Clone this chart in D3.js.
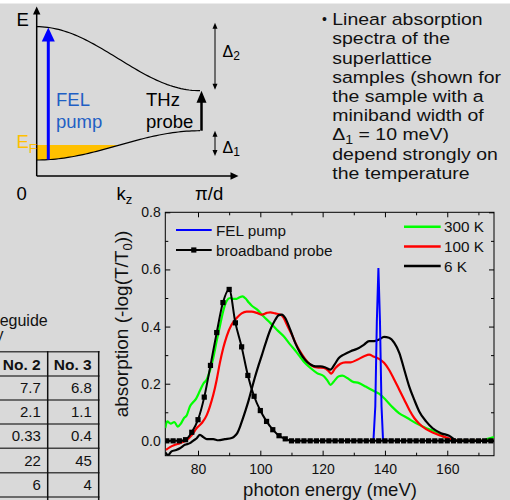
<!DOCTYPE html>
<html>
<head>
<meta charset="utf-8">
<script src="https://cdn.jsdelivr.net/npm/d3@7"></script>
<style>
  body { margin: 0; background: #d9d9d9; }
  svg { display: block; font-family: "Liberation Sans", Arial, sans-serif; }
</style>
</head>
<body>
<svg id="fig" width="510" height="500"></svg>
<script>
// ---- data ----
const probeEnergy = [70,72,74,76,78,80,82,84,86,88,90,92,94,96,98,100,102,104,106,108,110,
  112,114,116,118,120,122,124,126,128,130,132,134,136,138,140,142,144,146,148,150,152,154,156,158,160,162,164,166,168,170,172,174];
const probeAbs = [0,0,0,0.004,0.03,0.074,0.153,0.264,0.379,0.484,0.53,0.413,0.329,0.229,0.156,0.106,0.068,0.039,0.018,0.007,0,
  0,0,0,0,0,0,0,0,0,0,0,0,0,0,0,0,0,0,0,0,0,0,0,0,0,0,0,0,0,0,0,0];

const pumpEnergy = [136.3,136.9,137.4,137.9,138.4,138.9,139.4];
const pumpAbs = [0,0.12,0.42,0.605,0.42,0.12,0];

const energy300 = [69.5,70.1,71.2,72.4,73.5,74.5,75.4,76.4,77.4,78.4,79.4,80.6,81.7,82.8,83.8,84.9,86.0,87.0,88.1,89.2,90.3,91.4,92.4,93.4,94.3,95.3,96.3,97.2,98.9,101.0,103.2,105.3,107.5,109.6,111.8,113.9,116.1,118.2,120.4,121.6,122.5,123.6,125.2,126.3,127.9,129.5,131.7,133.8,136.0,138.1,140.2,142.4,144.5,147.2,149.9,152.6,155.3,157.4,159.0,161.2,163.3,171,173,175];
const abs300 = [0.045,0.068,0.06,0.066,0.05,0.06,0.078,0.09,0.12,0.135,0.148,0.175,0.2,0.215,0.245,0.29,0.35,0.4,0.455,0.49,0.5,0.497,0.497,0.503,0.506,0.498,0.484,0.474,0.46,0.436,0.413,0.389,0.366,0.337,0.308,0.278,0.255,0.237,0.226,0.21,0.196,0.208,0.226,0.228,0.22,0.208,0.202,0.19,0.177,0.165,0.144,0.118,0.097,0.08,0.062,0.048,0.036,0.027,0.013,0.004,0,0,0.007,0.013];

const energy100 = [69.7,71.0,72.6,74.2,76.4,78.0,79.6,81.2,82.8,83.8,84.9,86.0,87.0,88.1,89.2,90.8,92.4,94.0,95.6,97.2,98.9,100.5,102.1,103.2,104.8,106.4,107.5,108.5,110.1,111.8,113.4,115.0,116.6,118.2,120.4,122.0,122.7,124.1,125.7,127.3,129.0,131.1,133.3,134.9,136.5,138.1,139.7,141.3,143.0,144.6,146.2,147.8,149.4,151.0,153.2,155.3,158.0,160.6,163.3,175];
const abs100 = [-0.032,-0.022,-0.014,-0.008,0.003,0.02,0.045,0.062,0.09,0.12,0.161,0.214,0.272,0.325,0.366,0.407,0.43,0.446,0.452,0.452,0.448,0.442,0.448,0.45,0.446,0.442,0.43,0.407,0.372,0.331,0.302,0.278,0.263,0.257,0.255,0.243,0.235,0.255,0.27,0.275,0.275,0.284,0.296,0.302,0.294,0.287,0.273,0.249,0.214,0.179,0.144,0.109,0.08,0.06,0.041,0.029,0.018,0.008,0,0];

const energy6 = [69.5,70.4,71.5,73.0,74.2,75.8,77.4,78.5,79.6,80.6,81.7,82.8,84.9,86.5,88.6,90.8,91.6,92.6,93.5,94.3,95.2,96.2,97.2,98.2,99.3,100.5,101.5,103.2,104.8,105.9,106.9,108.0,109.6,111.2,112.8,114.4,116.1,117.7,119.3,120.9,122.5,123.8,125.2,126.8,129.0,131.1,133.3,134.9,136.5,138.1,139.7,141.3,143.0,144.6,146.2,147.8,149.4,151.0,153.2,155.3,158.0,160.6,163.3,175];
const abs6 = [-0.04,-0.05,-0.037,-0.032,-0.026,-0.014,-0.008,0.001,0.009,0.021,0.013,0.006,0.006,0.002,0.006,0.01,0.015,0.027,0.05,0.075,0.105,0.14,0.18,0.22,0.26,0.3,0.335,0.389,0.424,0.44,0.442,0.43,0.389,0.343,0.308,0.283,0.267,0.261,0.261,0.257,0.249,0.267,0.29,0.302,0.314,0.322,0.337,0.349,0.349,0.355,0.364,0.361,0.343,0.308,0.249,0.19,0.144,0.103,0.068,0.044,0.027,0.018,0,0];

const xTicks = [80, 100, 120, 140, 160];
const xMinor = [90, 110, 130, 150, 170];
const yTicks = [0, 0.2, 0.4, 0.6, 0.8];
const yMinor = [0.1, 0.3, 0.5, 0.7];

const tempLegend = ["300 K", "100 K", "6 K"];
const tempColors = ["#00ff00", "#ff0000", "#000000"];

const tableHead = ["No. 2", "No. 3"];
const tableRows = [["7.7", "6.8"], ["2.1", "1.1"], ["0.33", "0.4"], ["22", "45"], ["6", "4"]];

const bulletLines = [["Linear absorption"], ["spectra of the"], ["superlattice"], ["samples (shown for"],
  ["the sample with a"], ["miniband width of"], ["\u0394", "1", " = 10 meV)"], ["depend strongly on"], ["the temperature"]];

// miniband schematic (arbitrary energy units)
const band1 = {center: 18.1, width: 17.3};
const band2 = {center: 69.3, width: 37.8};
const fermiLevel = 18.3;

const svg = d3.select("#fig");
svg.append("rect").attr("width", 510).attr("height", 500).attr("fill", "#d9d9d9");
svg.append("rect").attr("width", 510).attr("height", 3.5).attr("fill", "#fff");

// text with subscripts: parts alternate normal / subscript
function richText(sel, parts, subSize, subDy) {
  parts.forEach((p, i) => {
    const t = sel.append("tspan").text(p);
    if (i % 2 === 1) t.attr("dy", subDy).attr("font-size", subSize);
    else if (i > 0) t.attr("dy", -subDy);
  });
  return sel;
}

function vArrow(g, x, y0, y1, o) {
  const dir = Math.sign(y1 - y0);
  g.append("line").attr("x1", x).attr("x2", x)
    .attr("y1", o.both ? y0 + dir * o.len * 0.8 : y0).attr("y2", y1 - dir * o.len * 0.8)
    .attr("stroke", o.color).attr("stroke-width", o.sw);
  const head = (yt, d) => g.append("path")
    .attr("d", `M${x},${yt} L${x - o.w / 2},${yt - d * o.len} L${x + o.w / 2},${yt - d * o.len} Z`)
    .attr("fill", o.color);
  head(y1, dir);
  if (o.both) head(y0, -dir);
}

// ---------------- band diagram ----------------
const dia = svg.append("g");
const kScale = d3.scaleLinear().domain([0, Math.PI]).range([36.7, 200]);
const eScale = d3.scaleLinear().domain([0, 100]).range([176, 6.7]);
const kGrid = d3.range(0, Math.PI + 0.001, Math.PI / 60);
const e1 = k => band1.center - band1.width / 2 * Math.cos(k);
const e2 = k => band2.center + band2.width / 2 * Math.cos(k);

// filled states below E_F
const kF = Math.acos((band1.center - fermiLevel) / (band1.width / 2));
dia.append("path")
  .datum(kGrid.filter(k => k <= kF).concat([kF]))
  .attr("d", d3.area().x(k => kScale(k)).y0(k => eScale(e1(k))).y1(eScale(fermiLevel)))
  .attr("fill", "#ffc000");

[e1, e2].forEach(f => {
  dia.append("path").datum(kGrid)
    .attr("d", d3.line().x(k => kScale(k)).y(k => eScale(f(k))))
    .attr("fill", "none").attr("stroke", "#000").attr("stroke-width", 1.2);
});

// axes of the diagram
dia.append("line").attr("x1", 36.7).attr("x2", 36.7).attr("y1", 176).attr("y2", 12)
  .attr("stroke", "#000").attr("stroke-width", 1.5);
dia.append("path").attr("d", "M36.7,6.5 L33,14.5 L40.4,14.5 Z").attr("fill", "#000");
dia.append("line").attr("x1", 36.7).attr("x2", 232).attr("y1", 176).attr("y2", 176)
  .attr("stroke", "#000").attr("stroke-width", 1.5);
dia.append("path").attr("d", "M238.5,176 L230.5,172.3 L230.5,179.7 Z").attr("fill", "#000");

// transitions
const kPump = kScale.invert(48.3);
vArrow(dia, 48.3, eScale(e1(kPump)), eScale(e2(kPump)), {color: "#0000ff", sw: 3, w: 13, len: 14});
vArrow(dia, 201.5, eScale(e1(Math.PI)), eScale(e2(Math.PI)), {color: "#000", sw: 2.5, w: 10, len: 12});
vArrow(dia, 215, eScale(e2(0)) - 4, eScale(e2(Math.PI)) - 1, {color: "#000", sw: 1, w: 5, len: 6, both: true});
vArrow(dia, 215, eScale(e1(Math.PI)), eScale(e1(0)) - 4, {color: "#000", sw: 1, w: 5, len: 6, both: true});

const dFont = "18.5px";
dia.append("text").attr("x", 16.5).attr("y", 25.7).attr("font-size", dFont).text("E");
richText(dia.append("text").attr("x", 16.5).attr("y", 148.3).attr("font-size", dFont).attr("fill", "#ffc000"),
  ["E", "F"], "13px", 4.5);
dia.append("text").attr("x", 56).attr("y", 105.5).attr("font-size", dFont).attr("fill", "#1f5fc4").text("FEL");
dia.append("text").attr("x", 56).attr("y", 127.7).attr("font-size", dFont).attr("fill", "#1f5fc4").text("pump");
dia.append("text").attr("x", 146).attr("y", 105.5).attr("font-size", dFont).text("THz");
dia.append("text").attr("x", 146).attr("y", 127.7).attr("font-size", dFont).text("probe");
richText(dia.append("text").attr("x", 222.5).attr("y", 57.3).attr("font-size", "16px"), ["\u0394", "2"], "12px", 3);
richText(dia.append("text").attr("x", 222.5).attr("y", 152.7).attr("font-size", "16px"), ["\u0394", "1"], "12px", 3);
dia.append("text").attr("x", 16.5).attr("y", 200).attr("font-size", dFont).text("0");
richText(dia.append("text").attr("x", 116.5).attr("y", 200).attr("font-size", dFont), ["k", "z"], "13px", 4);
dia.append("text").attr("x", 195).attr("y", 200).attr("font-size", dFont).text("\u03c0/d");

// ---------------- bullet text ----------------
// slide text is set a little wider than Arial, so stretch horizontally
const bullet = svg.append("g").attr("font-size", "16.5px").attr("fill", "#111");
bullet.append("text").attr("x", 322).attr("y", 24).attr("font-size", "14px").text("\u2022");
const bulletBody = bullet.append("g").attr("transform", "translate(332.3,0) scale(1.18,1)");
bulletLines.forEach((parts, i) => {
  richText(bulletBody.append("text").attr("x", 0).attr("y", 25.3 + i * 19.2), parts, "12px", 3.5);
});

// ---------------- table (cut at left edge) ----------------
const tab = svg.append("g").attr("font-size", "15px").attr("fill", "#111");
tab.append("text").attr("x", 47.7).attr("y", 325.5).attr("font-size", "16px")
  .attr("text-anchor", "end").text("waveguide");
tab.append("text").attr("x", 3.5).attr("y", 340).attr("font-size", "16px")
  .attr("text-anchor", "end").text("y");
const rowY = [351.7, 376, 400, 424, 448.3, 472.7, 497];
const colRight = [47.7, 98.7];
rowY.forEach(yy => tab.append("line").attr("x1", 0).attr("x2", 99.5).attr("y1", yy).attr("y2", yy)
  .attr("stroke", "#444").attr("stroke-width", 1.5));
colRight.forEach(xx => tab.append("line").attr("x1", xx).attr("x2", xx).attr("y1", 351).attr("y2", 500)
  .attr("stroke", "#111").attr("stroke-width", 1.5));
tableHead.forEach((h, j) => tab.append("text").attr("x", colRight[j] - 7).attr("y", 369.5)
  .attr("text-anchor", "end").attr("font-weight", "bold").attr("font-size", "15.5px").text(h));
tableRows.forEach((r, i) => r.forEach((v, j) => tab.append("text").attr("x", colRight[j] - 6.8)
  .attr("y", (rowY[i + 1] + rowY[i + 2]) / 2 + 5.3).attr("text-anchor", "end").text(v)));

// ---------------- absorption chart ----------------
const plot = {left: 165.3, right: 494, top: 212.3, bottom: 455.7};
const x = d3.scaleLinear().domain([69.5, 175]).range([plot.left, plot.right]);
const y = d3.scaleLinear().domain([-0.052, 0.8]).range([plot.bottom, plot.top]);

svg.append("clipPath").attr("id", "clip").append("rect")
  .attr("x", plot.left).attr("y", plot.top)
  .attr("width", plot.right - plot.left).attr("height", plot.bottom - plot.top);

const chart = svg.append("g").attr("font-size", "14px");

function drawAxis(axis, tx, ty, labels) {
  const g = chart.append("g").attr("transform", `translate(${tx},${ty})`).call(axis);
  g.select(".domain").remove();
  g.selectAll("text").attr("fill", "#111").style("font-family", "Liberation Sans, Arial, sans-serif")
    .attr("font-size", "14px");
  if (!labels) g.selectAll("text").remove();
  return g;
}
drawAxis(d3.axisBottom(x).tickValues(xTicks).tickSize(-5).tickPadding(8.6), 0, plot.bottom, true);
drawAxis(d3.axisBottom(x).tickValues(xMinor).tickSize(-3).tickFormat(""), 0, plot.bottom, false);
drawAxis(d3.axisTop(x).tickValues(xTicks).tickSize(-5), 0, plot.top, false);
drawAxis(d3.axisTop(x).tickValues(xMinor).tickSize(-3), 0, plot.top, false);
drawAxis(d3.axisLeft(y).tickValues(yTicks).tickSize(-5).tickPadding(4.6).tickFormat(d3.format(".1f")), plot.left, 0, true);
drawAxis(d3.axisLeft(y).tickValues(yMinor).tickSize(-3).tickFormat(""), plot.left, 0, false);
drawAxis(d3.axisRight(y).tickValues(yTicks).tickSize(-5), plot.right, 0, false);
drawAxis(d3.axisRight(y).tickValues(yMinor).tickSize(-3), plot.right, 0, false);

chart.append("rect").attr("x", plot.left).attr("y", plot.top)
  .attr("width", plot.right - plot.left).attr("height", plot.bottom - plot.top)
  .attr("fill", "none").attr("stroke", "#000").attr("stroke-width", 1);

const line = d3.line().x(d => x(d[0])).y(d => y(d[1])).curve(d3.curveMonotoneX);
const series = [
  {e: energy300, a: abs300, color: tempColors[0]},
  {e: energy100, a: abs100, color: tempColors[1]},
  {e: energy6, a: abs6, color: tempColors[2]}
];
const curves = chart.append("g").attr("clip-path", "url(#clip)");
series.forEach(s => {
  curves.append("path").datum(s.e.map((e, i) => [e, s.a[i]]))
    .attr("d", line).attr("fill", "none").attr("stroke", s.color).attr("stroke-width", 2.2);
});
curves.append("path").datum(pumpEnergy.map((e, i) => [e, pumpAbs[i]]))
  .attr("d", d3.line().x(d => x(d[0])).y(d => y(d[1]))).attr("fill", "none")
  .attr("stroke", "#0000ff").attr("stroke-width", 2);
const probe = probeEnergy.map((e, i) => [e, probeAbs[i]]);
curves.append("path").datum(probe).attr("d", line).attr("fill", "none")
  .attr("stroke", "#000").attr("stroke-width", 2);
curves.selectAll(".sq").data(probe).enter().append("rect")
  .attr("x", d => x(d[0]) - 2.6).attr("y", d => y(d[1]) - 2.6).attr("width", 5.2).attr("height", 5.2)
  .attr("fill", "#000");

// axis titles
chart.append("text").attr("x", 330).attr("y", 496).attr("text-anchor", "middle")
  .attr("font-size", "18.5px").attr("fill", "#111").text("photon energy (meV)");
richText(chart.append("text").attr("transform", "translate(128,324) rotate(-90)")
  .attr("text-anchor", "middle").attr("font-size", "19px").attr("fill", "#111"),
  ["absorption (-log(T/T", "0", "))"], "13px", 4);

// legends
const leg = chart.append("g").attr("font-size", "15.3px").attr("fill", "#111");
leg.append("line").attr("x1", 176).attr("x2", 211.7).attr("y1", 230).attr("y2", 230)
  .attr("stroke", "#0000ff").attr("stroke-width", 2);
leg.append("text").attr("x", 216).attr("y", 235.5).text("FEL pump");
leg.append("line").attr("x1", 176).attr("x2", 211.7).attr("y1", 250).attr("y2", 250)
  .attr("stroke", "#000").attr("stroke-width", 2);
leg.append("rect").attr("x", 191.2).attr("y", 247.4).attr("width", 5.2).attr("height", 5.2).attr("fill", "#000");
leg.append("text").attr("x", 216).attr("y", 255.5).text("broadband probe");
tempLegend.forEach((t, i) => {
  const yy = 226.7 + i * 19.7;
  leg.append("line").attr("x1", 404).attr("x2", 440.7).attr("y1", yy).attr("y2", yy)
    .attr("stroke", tempColors[i]).attr("stroke-width", 2.5);
  leg.append("text").attr("x", 444).attr("y", yy + 5.5).text(t);
});
</script>
</body>
</html>
